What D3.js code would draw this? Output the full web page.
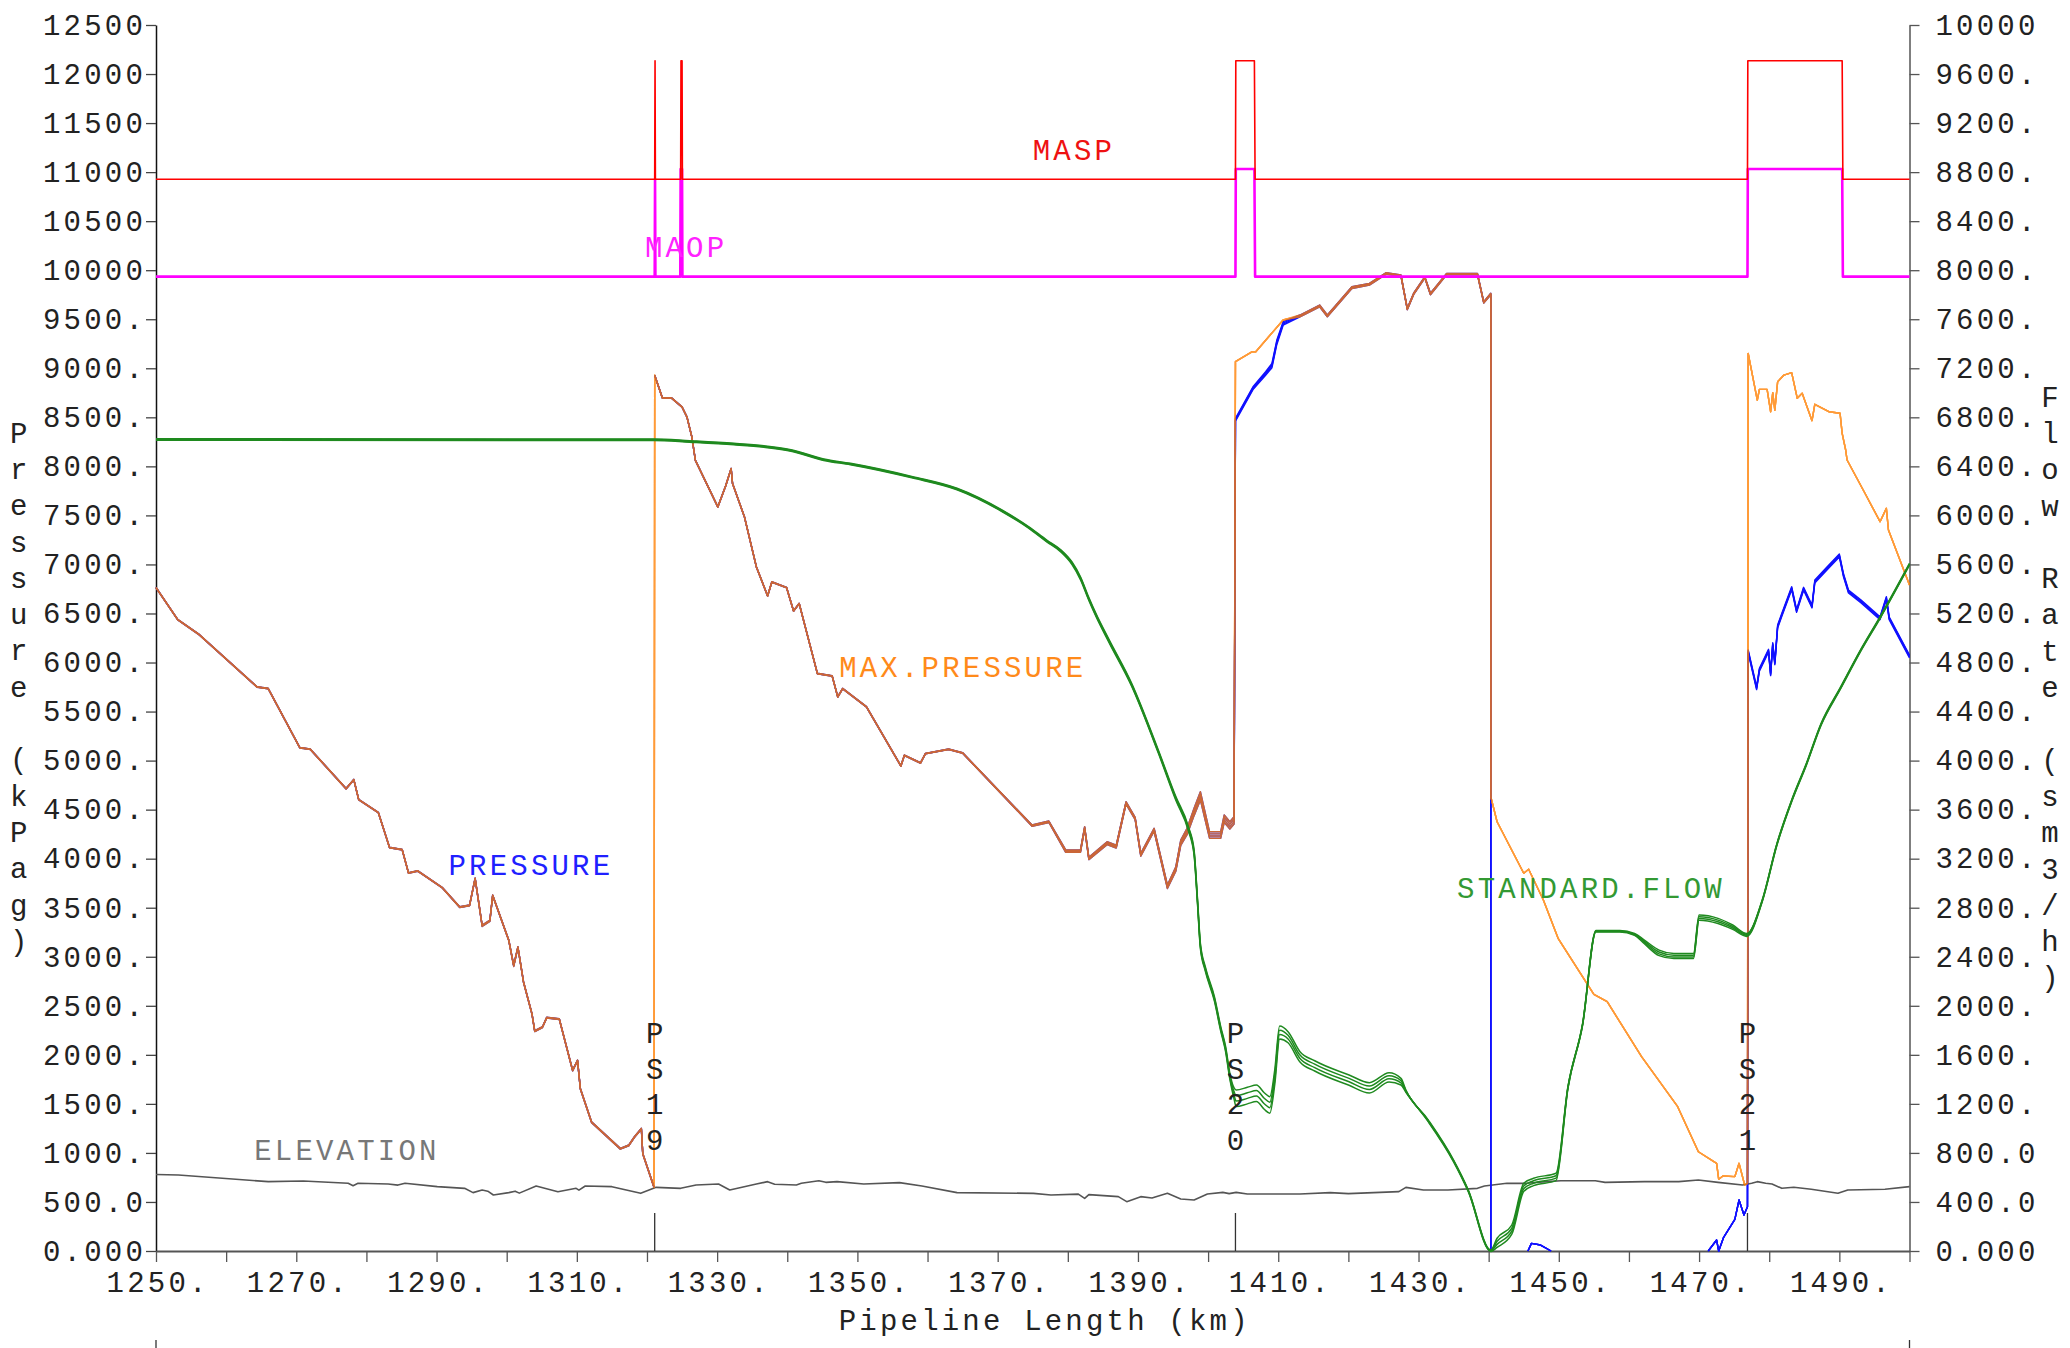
<!DOCTYPE html>
<html>
<head>
<meta charset="utf-8">
<script src="https://cdn.jsdelivr.net/npm/d3@7"></script>
<style>
  body { margin: 0; background: #fff; }
  svg text { font-family: "Liberation Mono", "DejaVu Sans Mono", monospace; font-size: 29px; letter-spacing: 3.2px; }
</style>
</head>
<body>
<svg width="2070" height="1348"></svg>
<script>
// ---- data (km, value, ensemble step) ----
var pressureA = [[1250.0,6767,2],[1253.1,6440,2],[1256.1,6291,2],[1264.4,5754,2],[1266.0,5737,2],[1270.5,5135,2],[1272.0,5118,2],
  [1277.1,4717,2],[1278.2,4809,2],[1278.9,4605,2],[1281.7,4473,2],[1283.3,4116,2],[1285.1,4095,2],[1286.0,3857,2],[1287.3,3878,2],
  [1290.8,3708,2],[1293.3,3510,3],[1294.7,3528,3],[1295.5,3803,3],[1296.5,3324,5],[1297.6,3375,5],[1298.0,3630,3],[1300.3,3171,3],
  [1301.0,2916,5],[1301.6,3102,3],[1302.4,2746,3],[1303.6,2423,3],[1304.0,2246,3],[1305.1,2287,3],[1305.7,2383,3],[1307.5,2369,3],
  [1309.4,1845,3],[1310.1,1947,3],[1310.5,1659,3],[1312.1,1318,3],[1316.2,1047,3],[1317.4,1081,3],[1318.2,1165,3],[1319.2,1251,3],
  [1319.4,996,3],[1321.0,656,3]];
var pressureB = [[1321.1,8931,2],[1322.2,8700,2],[1323.5,8700,2],[1325.0,8608,2],[1325.7,8506,2],[1326.4,8302,2],[1326.9,8065,2],
  [1330.1,7589,2],[1331.2,7800,2],[1332.0,7980,2],[1332.2,7828,2],[1333.9,7487,2],[1335.6,6977,2],[1337.2,6682,2],[1337.8,6824,2],
  [1339.9,6767,2],[1340.9,6528,2],[1341.7,6604,2],[1344.3,5890,2],[1346.4,5866,2],[1347.2,5652,2],[1347.9,5737,2],[1351.3,5550,2],
  [1356.2,4948,2],[1356.7,5057,2],[1359.0,4979,2],[1359.7,5074,2],[1363.0,5118,2],[1365.0,5081,2],[1374.9,4343,4],[1377.3,4384,5],
  [1379.7,4089,8],[1381.8,4089,8],[1382.4,4326,8],[1383.0,4014,8],[1385.6,4173,10],[1386.9,4139,10],[1388.3,4581,8],[1389.6,4422,8],
  [1390.4,4055,10],[1392.3,4310,10],[1394.2,3732,12],[1395.4,3918,15],[1396.1,4190,18],[1397.0,4310,22],[1398.0,4514,25],
  [1398.9,4683,28],[1399.6,4463,25],[1400.2,4275,22],[1401.8,4275,22],[1402.3,4446,25],[1403.1,4377,25],[1403.7,4428,25]];
var blueSeg3 = [[1403.9,8490,10],[1406.4,8812,10],[1408.2,8965,12],[1409.1,9050,15],[1409.8,9288,15],[1410.7,9475,12]];
var orangeSeg3 = [[1403.9,9067],[1406.3,9169],[1406.8,9169],[1410.7,9492]];
var pressureC = [[1413.1,9543,6],[1415.9,9645,6],[1417.0,9543,6],[1420.5,9832,6],[1423.0,9866,6],[1425.4,9975,5],[1427.5,9951,5],
  [1428.4,9612,5],[1429.3,9765,5],[1430.9,9934,5],[1431.7,9765,5],[1434.0,9968,5],[1438.4,9968,5],[1439.3,9679,5],[1440.3,9765,5]];
var blueTail = [[1440.3,0],[1440.4,null],[1445.6,0],[1446.1,78],[1447.4,61],[1448.9,0],[1449.0,null],
  [1471.3,0],[1472.5,112],[1472.8,0],[1473.5,140],[1475.1,323],[1475.7,520],[1476.4,367],[1476.9,452],
  [1477.0,6128,10],[1478.2,5754,10],[1478.6,5941,10],[1479.9,6135,10],[1480.2,5896,10],[1480.5,6202,10],[1480.8,6008,10],
  [1481.2,6383,10],[1481.8,6502,10],[1483.2,6773,10],[1483.9,6542,10],[1484.9,6767,10],[1486.1,6586,10],[1486.5,6841,10],
  [1488.5,6994,10],[1490.0,7106,10],[1490.6,6902,10],[1491.3,6739,10],[1493.1,6637,10],[1495.8,6467,10],[1496.7,6671,10],
  [1497.1,6467,10],[1500,6077,10]];
var orangeTail = [[1440.3,4632],[1441.2,4377],[1445.0,3851],[1445.7,3892],[1447.8,3579],[1449.9,3188],[1455.0,2617],[1456.9,2542],
  [1461.8,1981],[1466.9,1478],[1469.9,1012],[1472.5,894],[1472.8,731],[1473.4,765],[1475.1,758],[1475.7,894],[1476.5,673],
  [1476.9,690],[1477.0,9152],[1478.3,8676],[1478.6,8785],[1479.7,8785],[1480.2,8557],[1480.5,8751],[1480.8,8574],[1481.2,8863],
  [1482.1,8931],[1483.2,8955],[1484.0,8694],[1484.7,8745],[1486.1,8466],[1486.5,8633],[1488.5,8557],[1490.1,8541],[1490.4,8337],
  [1490.9,8167],[1491.1,8065],[1493.4,7759],[1495.8,7436],[1496.7,7572],[1497.0,7351],[1500,6790]];

var maop = [[1250,9934],[1321.1,9934],[1321.15,10927],[1321.2,9934],[1324.75,9934],[1324.8,11032],[1325.0,11032],[1325.05,9934],
  [1403.9,9934],[1403.95,11032],[1406.6,11032],[1406.7,9934],[1476.9,9934],[1476.95,11032],[1490.4,11032],[1490.5,9934],[1500,9934]];
var masp = [[1250,10927],[1321.1,10927],[1321.15,12135],[1321.2,10927],[1324.8,10927],[1324.85,12135],[1325.0,12135],[1325.05,10927],
  [1403.9,10927],[1403.95,12135],[1406.6,12135],[1406.7,10927],[1476.9,10927],[1476.95,12135],[1490.4,12135],[1490.5,10927],[1500,10927]];

var standardFlow = [[1250,6625,4],[1321,6623,4],[1326.1,6609,4],[1332.4,6588,4],[1336.9,6566,4],[1340.7,6533,4],[1345.2,6460,4],
  [1349.0,6425,4],[1357.9,6316,4],[1364.2,6221,4],[1370.6,6044,4],[1374.4,5908,4],[1377.0,5799,5],[1379.0,5720,6],[1380.6,5620,7],
  [1381.8,5500,8],[1383.0,5330,8],[1384.0,5201,8],[1385.9,4984,8],[1389.1,4630,8],[1392.9,4086,8],[1395.4,3706,10],[1397.2,3461,12],
  [1398.0,3271,14],[1398.5,2863,14],[1398.9,2510,14],[1399.6,2319,12],[1400.9,2074,12],[1401.8,1830,12],[1402.5,1666,14],
  [1403.1,1449,16],[1403.7,1330,30],[1404.0,1313,45],[1405.6,1335,45],[1406.9,1354,45],[1408.0,1291,45],[1408.8,1259,45],
  [1409.5,1476,40],[1410.2,1835,35],[1411.4,1789,30],[1413.1,1626,28],[1415.2,1552,28],[1420.1,1436,28],[1423.0,1373,28],
  [1425.8,1454,25],[1427.5,1408,18],[1428.2,1313,6],[1431.4,1068,5],[1435.0,742,5],[1437.1,498,5],[1440.3,8,4],[1441.2,104,25],
  [1443.3,212,25],[1445.0,552,22],[1446.4,593,20],[1449.6,634,20],[1451.3,1340,5],[1453.4,1857,4],[1455.3,2614,4],[1458.7,2614,4],
  [1460.8,2590,5],[1462.2,2536,10],[1464.3,2454,15],[1466.4,2427,14],[1469.2,2427,14],[1470.0,2740,14],[1472.7,2713,14],
  [1474.8,2659,12],[1476.8,2590,8],[1479.0,2863,5],[1481.1,3325,5],[1483.2,3679,5],[1485.3,3978,5],[1487.4,4304,5],[1490.2,4603,5],
  [1493.0,4902,5],[1495.8,5174,5],[1500,5609,5]];

var elevation = [[1250,780],[1253.2,775],[1266.0,707],[1271.0,714],[1277.4,690],[1278.1,666],[1278.8,690],[1283.1,683],[1284.5,672],
  [1285.5,690],[1290.1,656],[1294.0,639],[1295.2,595],[1296.5,622],[1297.3,610],[1298.1,571],[1300.3,595],[1301.2,610],[1301.8,590],
  [1304.2,663],[1307.3,605],[1309.9,639],[1310.3,620],[1311.2,663],[1315.0,656],[1319.1,588],[1321.3,649],[1324.8,639],[1327.0,673],
  [1330.2,683],[1331.8,622],[1335.6,683],[1337.2,707],[1338.2,680],[1341.3,673],[1342.0,690],[1344.5,717],[1345.5,700],[1347.1,707],
  [1350.9,683],[1356.0,697],[1359.2,663],[1364.2,595],[1375.1,588],[1377.6,571],[1381.5,580],[1382.4,537],[1383.0,575],[1387.2,554],
  [1388.4,503],[1390.4,554],[1392.0,540],[1394.2,588],[1396.1,530],[1398.0,520],[1399.9,581],[1402.1,598],[1403.0,585],[1404.0,598],
  [1405.6,581],[1413.1,581],[1417.4,595],[1420.0,585],[1427.2,605],[1428.2,649],[1430.7,622],[1434.2,622],[1438.4,639],[1439.4,663],
  [1442.6,690],[1445.4,690],[1448.2,707],[1450.3,717],[1455.2,717],[1456.6,700],[1462.2,707],[1467.1,707],[1469.9,724],[1472.7,700],
  [1476.2,673],[1477.5,690],[1478.3,707],[1479.5,690],[1480.4,683],[1481.8,639],[1483.5,650],[1486.0,629],[1489.8,588],[1491.2,622],
  [1496.5,629],[1500,656]];

var stations = [{name: "PS19", km: 1321.1}, {name: "PS20", km: 1403.9}, {name: "PS21", km: 1476.9}];

var pressureTicks = d3.range(0, 12501, 500),
    flowTicks = d3.range(0, 10001, 400),
    kmTicks = d3.range(1250, 1501, 10);

// series labels placed where the plot puts them
var seriesLabels = [
  {text: "MASP", km: 1375.0, kpa: 11124, color: "#ee1111"},
  {text: "MAOP", km: 1319.7, kpa: 10135, color: "#ff22ff"},
  {text: "PRESSURE", km: 1291.7, kpa: 3834, color: "#2020ff"},
  {text: "MAX.PRESSURE", km: 1347.4, kpa: 5852, color: "#ff8a1a"},
  {text: "STANDARD.FLOW", km: 1435.5, kpa: 3599, color: "#339933"},
  {text: "ELEVATION", km: 1264.0, kpa: 928, color: "#777777"}
];

var svg = d3.select("svg"),
    margin = {top: 25, right: 160.5, bottom: 97, left: 156},
    width = +svg.attr("width") - margin.left - margin.right,
    height = +svg.attr("height") - margin.top - margin.bottom,
    g = svg.append("g").attr("transform", "translate(" + margin.left + "," + margin.top + ")");

var x = d3.scaleLinear().domain([1250, 1500]).range([0, width]),
    yP = d3.scaleLinear().domain([0, 12500]).range([height, 0]),
    yF = d3.scaleLinear().domain([0, 10000]).range([height, 0]);

// fortran style 5 char numbers: 12500, 9500., 500.0, 0.000
function fmt5(v) {
  var s = String(v);
  if (s.length >= 5) return s;
  s += ".";
  while (s.length < 5) s += "0";
  return s;
}

// axes
var axL = g.append("g")
    .call(d3.axisLeft(yP).tickValues(pressureTicks).tickFormat(fmt5).tickSize(10).tickSizeOuter(0).tickPadding(0));
var axR = g.append("g")
    .attr("transform", "translate(" + width + ",0)")
    .call(d3.axisRight(yF).tickValues(flowTicks).tickFormat(fmt5).tickSize(10).tickSizeOuter(0).tickPadding(16));
var axB = g.append("g")
    .attr("transform", "translate(0," + height + ")")
    .call(d3.axisBottom(x).tickValues(kmTicks).tickSize(11).tickSizeOuter(0).tickPadding(9)
      .tickFormat(function(d) { return ((d - 1250) % 20 === 0 && d < 1500) ? fmt5(d) : ""; }));

[axL, axR, axB].forEach(function(a) {
  a.attr("font-size", null).attr("font-family", null);
  a.selectAll("text").attr("fill", "#222");
});
axL.select(".domain").attr("stroke", "#111").attr("stroke-width", 1.5);
axL.selectAll(".tick line").attr("stroke", "#444").attr("stroke-width", 1.3);
axR.select(".domain").attr("stroke", "#555").attr("stroke-width", 1.5);
axR.selectAll(".tick line").attr("stroke", "#555").attr("stroke-width", 1.3);
axB.select(".domain").attr("stroke", "#555").attr("stroke-width", 2);
axB.selectAll(".tick line").attr("stroke", "#555").attr("stroke-width", 1.3);
axB.selectAll("text").attr("dx", 1.6);

// little marks under the frame
[0, width].forEach(function(px) {
  g.append("line").attr("x1", px).attr("x2", px).attr("y1", 1340 - margin.top).attr("y2", 1348 - margin.top)
    .attr("stroke", "#333").attr("stroke-width", 1.3);
});

// axis titles
g.append("text")
    .attr("x", width / 2 + 12)
    .attr("y", 1330 - margin.top)
    .attr("text-anchor", "middle")
    .attr("fill", "#222")
    .text("Pipeline Length (km)");

function stackedTitle(str, px, firstBase) {
  str.split("").forEach(function(ch, i) {
    g.append("text")
      .attr("x", px)
      .attr("y", firstBase + i * 36.3)
      .attr("text-anchor", "middle")
      .style("letter-spacing", "0px")
      .attr("fill", "#222")
      .text(ch);
  });
}
stackedTitle("Pressure (kPag)", 18.7 - margin.left, 442.6 - margin.top);
stackedTitle("Flow Rate (sm3/h)", 2050 - margin.left, 406.6 - margin.top);

// lines
function drawSeries(parent, data, yScale, n, color, w, curve) {
  for (let k = 0; k < n; k++) {
    var line = d3.line()
      .defined(function(d) { return d[1] != null; })
      .x(function(d) { return x(d[0]); })
      .y(function(d) { return yScale(d[1] - k * (d[2] || 0)); })
      .curve(curve || d3.curveLinear);
    parent.append("path")
      .datum(data)
      .attr("d", line)
      .attr("fill", "none")
      .attr("stroke", color)
      .attr("stroke-width", w)
      .attr("stroke-linejoin", "round");
  }
}

drawSeries(g, elevation, yP, 1, "#555555", 1.6);

var bluePressure = pressureA.concat([[1321.05, null]], pressureB, blueSeg3, pressureC, blueTail);
drawSeries(g, bluePressure, yP, 4, "#1010ff", 1.4);

var maxPressure = pressureA.concat(pressureB, orangeSeg3, pressureC, orangeTail);
var orangeLayer = g.append("g").attr("opacity", 0.78);
drawSeries(orangeLayer, maxPressure, yP, 4, "#ff7f00", 1.4);

drawSeries(g, standardFlow, yF, 4, "#1f8a1f", 1.5, d3.curveMonotoneX);
drawSeries(g, maop, yP, 1, "#ff00ff", 2.6);
drawSeries(g, masp, yP, 1, "#ff0000", 1.6);

// pump stations
var st = g.selectAll(".station").data(stations).enter().append("g").attr("class", "station");
st.append("line")
    .attr("x1", function(d) { return x(d.km); })
    .attr("x2", function(d) { return x(d.km); })
    .attr("y1", 1213 - margin.top)
    .attr("y2", height)
    .attr("stroke", "#333")
    .attr("stroke-width", 1.3);
st.each(function(d) {
  var s = d3.select(this);
  d.name.split("").forEach(function(ch, i) {
    s.append("text")
      .attr("x", x(d.km))
      .attr("y", 1043 - margin.top + i * 35.7)
      .attr("text-anchor", "middle")
      .style("letter-spacing", "0px")
      .attr("fill", "#222")
      .text(ch);
  });
});

// series labels
g.selectAll(".slabel").data(seriesLabels).enter().append("text")
    .attr("class", "slabel")
    .attr("x", function(d) { return x(d.km); })
    .attr("y", function(d) { return yP(d.kpa); })
    .attr("fill", function(d) { return d.color; })
    .text(function(d) { return d.text; });
</script>
</body>
</html>
